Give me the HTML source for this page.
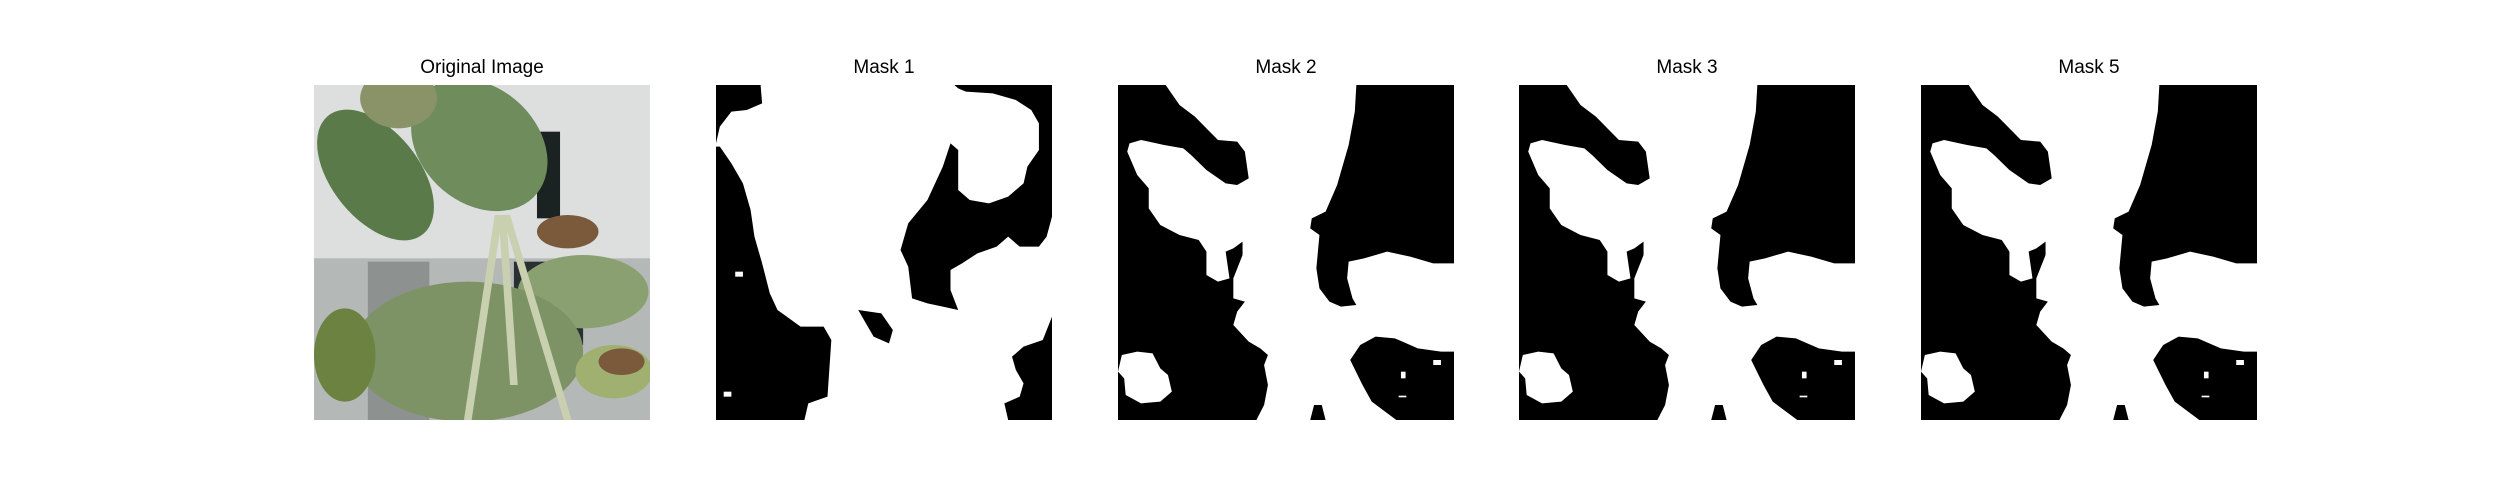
<!DOCTYPE html>
<html><head><meta charset="utf-8"><style>
body{margin:0;background:#fff;width:2500px;height:500px;position:relative;overflow:hidden;font-family:"Liberation Sans","DejaVu Sans",sans-serif}
.t{position:absolute;top:57px;width:336px;text-align:center;font-size:19px;color:#000}
svg.p{position:absolute;top:85px;width:336px;height:335px}
</style></head><body>
<div class="t" style="left:314px">Original Image</div>
<div class="t" style="left:716px">Mask 1</div>
<div class="t" style="left:1118px">Mask 2</div>
<div class="t" style="left:1519px">Mask 3</div>
<div class="t" style="left:1921px">Mask 5</div>

<svg class="p" style="left:314px" viewBox="0 0 437 1005" preserveAspectRatio="none">
<rect width="437" height="1005" fill="#dcdfde"/>
<rect x="0" y="520" width="437" height="485" fill="#b4b8b6"/>
<rect x="70" y="530" width="80" height="475" fill="#8d918f"/>
<rect x="290" y="140" width="30" height="260" fill="#1a2222"/>
<rect x="260" y="530" width="90" height="250" fill="#2a3030"/>
<ellipse cx="215" cy="180" rx="85" ry="200" fill="#6e8c5c" transform="rotate(-8 215 180)"/>
<ellipse cx="80" cy="270" rx="65" ry="200" fill="#5a7a4a" transform="rotate(-12 80 270)"/>
<ellipse cx="110" cy="40" rx="50" ry="90" fill="#8a9268"/>
<ellipse cx="330" cy="440" rx="40" ry="50" fill="#7a5a3a"/>
<ellipse cx="350" cy="620" rx="85" ry="110" fill="#8aa070"/>
<ellipse cx="200" cy="800" rx="150" ry="210" fill="#7d9366"/>
<ellipse cx="40" cy="810" rx="40" ry="140" fill="#6c8240"/>
<ellipse cx="390" cy="860" rx="50" ry="80" fill="#a0b070"/>
<ellipse cx="400" cy="830" rx="30" ry="40" fill="#7a5a3a"/>
<path d="M240 390 L200 1005 M250 390 L330 1005 M245 390 L260 900" stroke="#c8d0b0" stroke-width="10" fill="none"/>
</svg>

<svg class="p" style="left:716px" viewBox="0 0 437 1005" preserveAspectRatio="none">
<rect width="437" height="1005" fill="#fff"/>
<g fill="#000" transform="translate(-540,-105)">
<polygon points="540,105 598,105 600,160 580,180 560,185 545,230 540,280"/>
<polygon points="545,290 560,340 575,400 585,480 590,560 600,640 610,730 620,780 650,830 680,830 690,870 685,1040 660,1060 655,1110 540,1110 540,290"/>
<polygon points="850,105 977,105 977,500 970,560 960,590 935,590 920,560 905,590 880,610 860,640 845,660 845,720 855,780 835,770 815,760 795,745 790,650 780,600 790,520 815,450 835,350 845,280 855,300 855,420 870,450 895,460 920,440 940,400 945,350 960,300 960,220 950,180 930,150 900,130 865,125 855,115"/>
<polygon points="977,800 965,870 940,890 925,920 930,960 940,1000 935,1040 915,1060 920,1110 977,1110"/>
<polygon points="725,780 755,790 770,840 765,880 745,860 735,820"/>
</g>
<g fill="#fff" transform="translate(-540,-105)"><rect x="565" y="665" width="10" height="15"/><rect x="550" y="1025" width="10" height="15"/></g>
</svg>

<svg width="0" height="0" style="position:absolute"><defs>
<g id="m2">
<rect width="437" height="1005" fill="#000"/>
<polygon fill="#fff" points="62,0 80,60 100,95 115,130 130,165 155,170 165,200 170,280 155,300 140,295 115,255 95,210 85,190 60,180 30,165 15,175 12,200 25,270 40,310 40,370 55,420 80,450 105,465 115,500 115,570 130,590 145,580 140,500 150,490 162,470 162,510 150,580 150,640 165,650 155,680 150,720 170,770 185,790 195,810 190,840 195,900 190,960 180,1005 250,1005 255,960 265,960 270,1005 362,1005 330,950 318,900 302,825 315,780 335,755 360,760 390,790 420,800 437,800 437,535 410,535 380,515 350,500 320,520 300,530 298,580 305,640 310,660 290,665 275,650 262,610 258,550 262,450 250,430 252,400 270,380 285,300 300,180 308,80 310,0"/>
<polygon fill="#fff" points="5,810 25,800 45,805 55,850 65,870 70,920 55,950 30,955 10,930 8,880 0,860"/>
<rect fill="#fff" x="410" y="825" width="10" height="15"/><rect fill="#fff" x="368" y="860" width="6" height="20"/><rect fill="#fff" x="365" y="932" width="10" height="5"/>
</g></defs></svg>
<svg class="p" style="left:1118px" viewBox="0 0 437 1005" preserveAspectRatio="none"><use href="#m2"/></svg>
<svg class="p" style="left:1519px" viewBox="0 0 437 1005" preserveAspectRatio="none"><use href="#m2"/></svg>
<svg class="p" style="left:1921px" viewBox="0 0 437 1005" preserveAspectRatio="none"><use href="#m2"/></svg>
</body></html>
